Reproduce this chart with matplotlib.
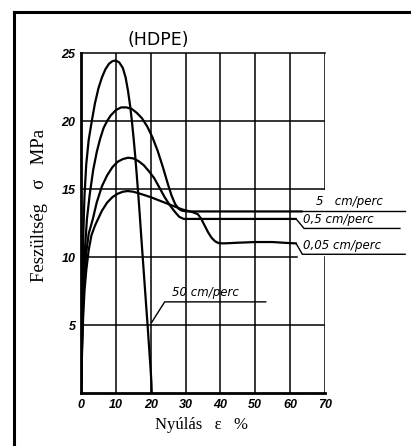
import matplotlib
matplotlib.use("Agg")
import matplotlib.pyplot as plt
from matplotlib.lines import Line2D

# stress-strain curves of HDPE at four pulling speeds (strain %, stress MPa)
strain_50 = [0, 0.2, 0.4, 0.7, 1.0, 1.5, 2.2, 3.1, 4.0, 5.0, 6.0, 7.0, 8.0, 9.0, 10.0,
             11.0, 12.0, 12.8, 13.5, 14.1, 14.6, 15.1, 15.6, 16.0, 16.4, 16.8, 17.2,
             17.7, 18.2, 18.7, 19.1, 19.5, 19.9, 20.2, 20.3]
stress_50 = [0, 4.0, 8.0, 12.0, 14.5, 16.8, 18.6, 20.0, 21.3, 22.4, 23.2, 23.8, 24.2,
             24.4, 24.45, 24.3, 23.9, 23.2, 22.2, 21.1, 20.0, 18.7, 17.3, 16.0, 14.7,
             13.3, 11.8, 10.0, 8.2, 6.4, 5.0, 3.5, 2.0, 0.8, 0]

strain_5 = [0, 0.3, 0.6, 1.0, 1.7, 2.5, 3.5, 4.5, 5.5, 6.5, 7.5, 8.5, 10.0, 11.5, 13.0,
            14.5, 16.0, 17.5, 19.0, 20.5, 22.0, 23.5, 25.0, 26.0, 27.0, 28.0, 29.0,
            30.5, 40.0, 50.0, 63.4]
stress_5 = [0, 4.0, 7.5, 10.0, 12.8, 14.6, 16.4, 17.7, 18.7, 19.5, 20.0, 20.4, 20.8,
            21.0, 21.0, 20.9, 20.6, 20.2, 19.6, 18.8, 17.8, 16.6, 15.3, 14.5, 13.9,
            13.55, 13.4, 13.35, 13.35, 13.35, 13.35]

strain_05 = [0, 0.3, 0.6, 1.0, 1.5, 2.2, 3.4, 4.5, 6.0, 7.5, 9.0, 10.5, 12.0, 13.5,
             15.0, 16.5, 18.0, 19.5, 21.0, 22.5, 24.0, 25.5, 27.0, 28.2, 29.5, 31.0,
             40.0, 50.0, 61.7]
stress_05 = [0, 3.5, 6.5, 8.6, 10.3, 11.7, 12.8, 14.0, 15.2, 16.0, 16.6, 17.0, 17.2,
             17.3, 17.25, 17.05, 16.75, 16.3, 15.8, 15.1, 14.4, 13.8, 13.3, 12.95,
             12.8, 12.8, 12.8, 12.8, 12.8]

strain_005 = [0, 0.3, 0.6, 1.0, 1.5, 2.2, 3.0, 4.0, 4.9, 6.0, 7.5, 9.0, 10.5, 12.0,
              13.4, 15.0, 17.0, 20.0, 23.0, 26.0, 29.0, 32.0, 33.5, 34.5, 35.5, 36.5,
              37.5, 38.5, 39.5, 41.0, 45.0, 50.0, 55.0, 58.0, 61.7]
stress_005 = [0, 3.0, 5.5, 7.5, 9.0, 10.5, 11.6, 12.3, 12.8, 13.4, 14.0, 14.4, 14.65,
              14.8, 14.85, 14.8, 14.65, 14.4, 14.1, 13.8, 13.5, 13.3, 13.15, 12.8,
              12.3, 11.8, 11.4, 11.15, 11.02, 11.0, 11.05, 11.1, 11.1, 11.05, 11.0]

x_ticks = [0, 10, 20, 30, 40, 50, 60, 70]
y_ticks = [5, 10, 15, 20, 25]

fig = plt.figure(figsize=(4.11, 4.46), dpi=100)
ax = fig.add_axes([81 / 411, 1 - 393 / 446, 244 / 411, 340 / 446])
ax.set_xlim(0, 70)
ax.set_ylim(0, 25)

# grid, drawn by hand so the right border can be broken for the labels
for x in x_ticks[1:-1]:
    ax.axvline(x, color="black", lw=1.1, zorder=1)
for y in [15, 20]:
    ax.axhline(y, color="black", lw=1.1, zorder=1)
ax.plot([0, 62], [10, 10], color="black", lw=1.1, zorder=1)
ax.plot([0, 70], [5, 5], color="black", lw=1.1, zorder=1)
ax.plot([70, 70], [15, 25], color="black", lw=1.1, zorder=1)
ax.plot([70, 70], [0, 10], color="black", lw=1.1, zorder=1)

ax.spines["right"].set_visible(False)
for side in ["left", "bottom"]:
    ax.spines[side].set_linewidth(2.0)
ax.spines["top"].set_linewidth(1.1)

kw = dict(color="black", lw=1.6, zorder=3, solid_capstyle="round",
          solid_joinstyle="round")
ax.plot(strain_50, stress_50, **kw)
ax.plot(strain_5, stress_5, **kw)
ax.plot(strain_05, stress_05, **kw)
ax.plot(strain_005, stress_005, **kw)

tick_font = dict(family="Liberation Sans", weight="bold", style="italic", size=9)
ax.set_xticks(x_ticks)
ax.set_xticklabels([str(v) for v in x_ticks], fontdict=tick_font)
ax.set_yticks(y_ticks)
ax.set_yticklabels([str(v) for v in y_ticks], fontdict=tick_font)
ax.tick_params(length=0, pad=4)

# speed labels with their leader lines
lab_font = dict(family="DejaVu Sans", style="italic", size=8.5)
lk = dict(color="black", lw=1.0, clip_on=False)
ax.add_line(Line2D([63.4, 93.0], [13.35, 13.35], **lk))
ax.text(67.5, 13.6, "5   cm/perc", ha="left", va="bottom", **lab_font)
ax.add_line(Line2D([61.7, 64.0, 91.5], [12.8, 12.1, 12.1], **lk))
ax.text(63.8, 12.3, "0,5 cm/perc", ha="left", va="bottom", **lab_font)
ax.add_line(Line2D([61.7, 63.5, 93.0], [11.0, 10.2, 10.2], **lk))
ax.text(63.8, 10.4, "0,05 cm/perc", ha="left", va="bottom", **lab_font)
ax.add_line(Line2D([20.3, 24.0, 53.0], [5.2, 6.7, 6.7], **lk))
ax.text(26.0, 6.9, "50 cm/perc", ha="left", va="bottom", **lab_font)

ax.set_title("(HDPE)", fontsize=12.5, family="DejaVu Sans", loc="left",
             x=0.19, pad=6)
fig.text(201 / 411, 1 - 425 / 446, "Nyúlás   ε   %", ha="center", va="center",
         family="Liberation Serif", size=12)
fig.text(40 / 411, 1 - 205 / 446, "Feszültség   σ   MPa", ha="center", va="center",
         rotation=90, family="Liberation Serif", size=13.5)

# frame round the page
fig.add_artist(Line2D([14 / 411, 1.0], [1 - 12 / 446] * 2, color="black", lw=2.2,
                      transform=fig.transFigure))
fig.add_artist(Line2D([14 / 411] * 2, [0, 1 - 12 / 446], color="black", lw=2.2,
                      transform=fig.transFigure))

fig.savefig("out.png", dpi=100)
